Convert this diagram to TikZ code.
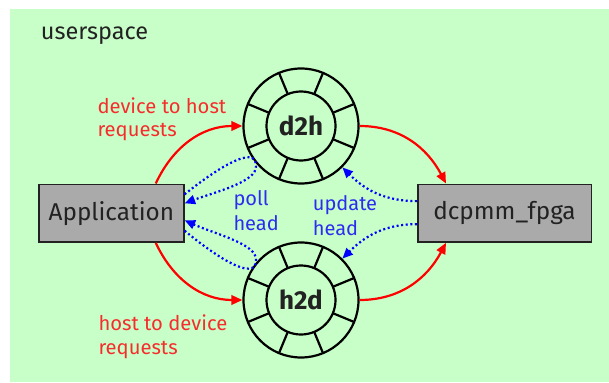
\documentclass[tikz,border=0pt]{standalone}
\usepackage{fontspec}
\setmainfont{Fira Sans}
\usetikzlibrary{arrows.meta,calc}

\definecolor{bggreen}{RGB}{200,255,200}
\definecolor{boxgray}{RGB}{170,170,170}
\definecolor{inkdark}{RGB}{34,34,34}
\definecolor{labelred}{RGB}{245,45,45}
\definecolor{labelblue}{RGB}{45,45,240}

\tikzset{
  procbox/.style={draw=inkdark, line width=1.6pt, fill=boxgray, rectangle,
    minimum width=145pt, minimum height=57.7pt, inner sep=0pt,
    font=\fontsize{24.3}{28}\selectfont, text=inkdark},
  ringbuf/.style={draw=black, line width=2.2pt, circle, minimum size=115pt,
    inner sep=0pt, font=\bfseries\fontsize{26}{30}\selectfont, text=inkdark},
  redarrow/.style={draw=red, line width=2.2pt,
    -{Triangle[length=11pt,width=9.5pt]}},
  bluearrow/.style={draw=blue, line width=2.2pt, dash pattern=on 2pt off 2.6pt,
    -{Triangle[length=10.5pt,width=9pt]}},
  redlabel/.style={text=labelred, font=\fontsize{20.2}{23.4}\selectfont,
    align=left, anchor=base west, inner sep=0pt},
  bluelabel/.style={text=labelblue, font=\fontsize{20}{25}\selectfont,
    align=left, anchor=base west, inner sep=0pt},
}

\begin{document}
\begin{tikzpicture}[x=1pt,y=1pt]
  \useasboundingbox (0,0) rectangle (609,-382);
  % userspace cluster
  \fill[bggreen] (10,-9) rectangle (609,-382);
  \node[anchor=base west, inner sep=0pt, text=inkdark,
    font=\fontsize{23.5}{28}\selectfont] (cluster) at (40.7,-39.3) {userspace};

  % endpoints
  \node[procbox] (app) at (111.35,-213.15) {Application};
  \node[procbox, minimum width=173.6pt] (dev) at (504.5,-213.15) {dcpmm\_fpga};

  % ring buffers
  \node[ringbuf] (d2h) at (301,-126) {d2h};
  \node[ringbuf] (h2d) at (301,-300) {h2d};
  \foreach \r in {d2h,h2d}{
    \draw[line width=2.2pt] (\r.center) circle[radius=34.5pt];
    \foreach \a in {22.5,67.5,...,337.5}
      \draw[line width=2.2pt] ($(\r.center)+(\a:34.5pt)$) -- ($(\r.center)+(\a:57.5pt)$);
  }

  % requests
  \draw[redarrow] ([xshift=44.4pt]app.north) to[out=65,in=180] (d2h.west);
  \draw[redarrow] ([xshift=44.4pt]app.south) to[out=-65,in=180] (h2d.west);
  \draw[redarrow] (d2h.east) to[out=0,in=118] ([xshift=-58.5pt]dev.north);
  \draw[redarrow] (h2d.east) to[out=0,in=-118] ([xshift=-58.5pt]dev.south);

  % head polling
  \coordinate (pollup) at (256,-166);
  \coordinate (polldn) at (256,-260);
  \draw[bluearrow] ([yshift=18.85pt]app.east)
      .. controls (215,-170) and (256,-143) .. (pollup)
      .. controls (257,-182) and (215,-192) .. ([yshift=9.85pt]app.east);
  \draw[bluearrow] ([yshift=-17.55pt]app.east)
      .. controls (215,-256) and (256,-283) .. (polldn)
      .. controls (257,-244) and (215,-234) .. ([yshift=-7.15pt]app.east);

  % head updates
  \draw[bluearrow] ([yshift=12pt]dev.west) to[out=180,in=-45] (d2h.-45);
  \draw[bluearrow] ([yshift=-11pt]dev.west) to[out=180,in=45] (h2d.45);

  % labels (anchored at the baseline of the last line)
  \node[redlabel] (lbd2h) at (97.3,-136.7) {device to host\\requests};
  \node[redlabel] (lbh2d) at (98.3,-354) {host to device\\requests};
  \node[bluelabel] (lbpoll) at (233.3,-230) {poll\\head};
  \node[bluelabel] (lbupd) at (312.7,-235) {update\\head};
\end{tikzpicture}
\end{document}
